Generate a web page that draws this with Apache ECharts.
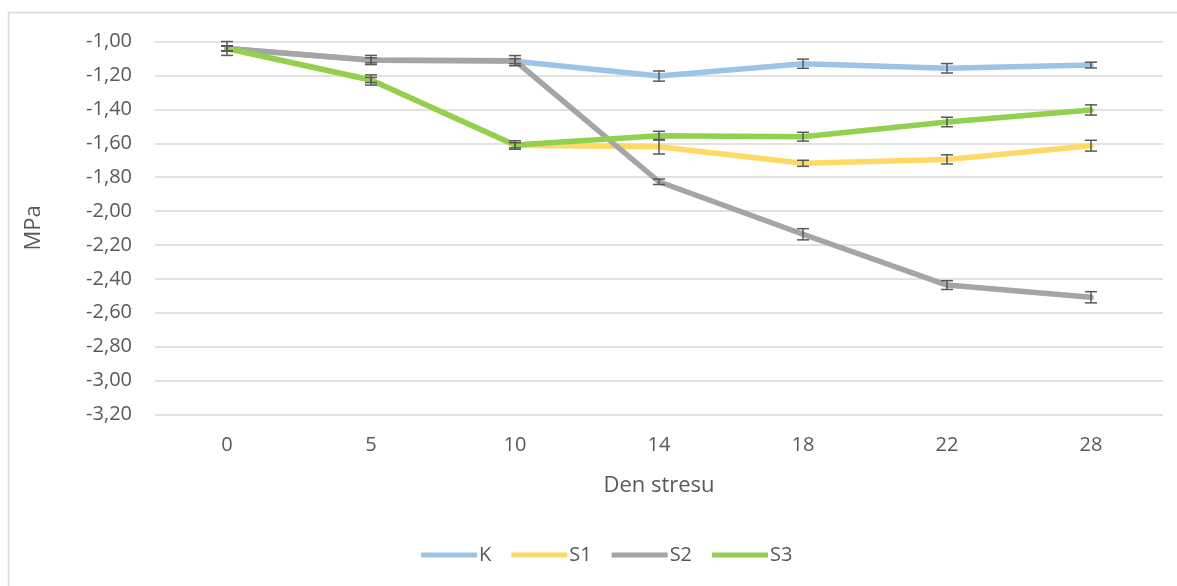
<!DOCTYPE html>
<html>
<head>
<meta charset="utf-8">
<script src="https://cdn.jsdelivr.net/npm/echarts@6/dist/echarts.min.js"></script>
<style>
  html, body { margin: 0; padding: 0; background: #fff; }
  #chart { width: 1177px; height: 586px; }
</style>
</head>
<body>
<div id="chart"></div>
<script>
const days = ['0', '5', '10', '14', '18', '22', '28'];
const yTicks = { min: -3.2, max: -1.0, step: 0.2 };

const seriesNames = ['K', 'S1', 'S2', 'S3'];
const seriesColors = ['#9DC3E6', '#FFD966', '#A5A5A5', '#92D050'];

const valK  = [-1.04, -1.11, -1.115, -1.203, -1.13, -1.157, -1.138];
const valS1 = [-1.04, -1.226, -1.612, -1.62, -1.718, -1.695, -1.614];
const valS2 = [-1.04, -1.108, -1.112, -1.827, -2.137, -2.437, -2.509];
const valS3 = [-1.04, -1.226, -1.61, -1.555, -1.561, -1.474, -1.403];

const errK  = [0.015, 0.015, 0.015, 0.03, 0.027, 0.028, 0.017];
const errS1 = [0.015, 0.015, 0.015, 0.043, 0.018, 0.027, 0.032];
const errS2 = [0.041, 0.027, 0.03, 0.016, 0.033, 0.026, 0.033];
const errS3 = [0.015, 0.03, 0.025, 0.026, 0.026, 0.028, 0.03];

const values = [valK, valS1, valS2, valS3];
const errors = [errK, errS1, errS2, errS3];

const font = 'Open Sans';
const textColor = '#595959';

function fmt(v) {
  return v.toFixed(2).replace('.', ',');
}

function errorBars(name, vals, errs) {
  const data = vals.map((v, i) => [i, v - errs[i], v + errs[i]]);
  return {
    name: name,
    type: 'custom',
    silent: true,
    renderItem: (params, api) => {
      const lo = api.coord([api.value(0), api.value(1)]);
      const hi = api.coord([api.value(0), api.value(2)]);
      const half = 6;
      const style = { stroke: '#595959', lineWidth: 1.5 };
      return {
        type: 'group',
        children: [
          { type: 'line', shape: { x1: lo[0], y1: lo[1], x2: hi[0], y2: hi[1] }, style },
          { type: 'line', shape: { x1: lo[0] - half, y1: lo[1], x2: lo[0] + half, y2: lo[1] }, style },
          { type: 'line', shape: { x1: hi[0] - half, y1: hi[1], x2: hi[0] + half, y2: hi[1] }, style }
        ]
      };
    },
    encode: { x: 0, y: [1, 2] },
    data: data,
    z: 3
  };
}

const series = [];
seriesNames.forEach((name, k) => {
  series.push({
    name: name,
    type: 'line',
    data: values[k],
    symbol: 'none',
    lineStyle: { color: seriesColors[k], width: 5.5, cap: 'round', join: 'round' },
    itemStyle: { color: seriesColors[k] },
    z: 2
  });
  series.push(errorBars(name, values[k], errors[k]));
});

const chart = echarts.init(document.getElementById('chart'));
chart.setOption({
  animation: false,
  backgroundColor: '#fff',
  textStyle: { fontFamily: font, color: textColor },
  graphic: [{
    type: 'rect',
    shape: { x: 8.5, y: 12.5, width: 1200, height: 600 },
    style: { fill: 'none', stroke: '#D9D9D9', lineWidth: 1.5 },
    silent: true
  }],
  grid: { left: 155, right: 14, top: 41.7, bottom: 171.7 },
  legend: {
    data: seriesNames.map((n, k) => ({ name: n, icon: 'path://M0,0 L56,0 L56,5 L0,5 Z', itemStyle: { color: seriesColors[k] } })),
    bottom: 16,
    left: 416,
    itemWidth: 56,
    itemHeight: 5,
    itemGap: 20,
    textStyle: { fontFamily: font, fontSize: 20, color: textColor, padding: [0, 0, 0, -3] }
  },
  xAxis: {
    type: 'category',
    data: days,
    boundaryGap: true,
    name: 'Den stresu',
    nameLocation: 'middle',
    nameGap: 60,
    nameTextStyle: { fontFamily: font, fontSize: 22, color: textColor },
    axisLine: { show: false },
    axisTick: { show: false },
    axisLabel: { fontFamily: font, fontSize: 20, color: textColor, margin: 21 }
  },
  yAxis: {
    type: 'value',
    min: yTicks.min,
    max: yTicks.max,
    interval: yTicks.step,
    name: 'MPa',
    nameLocation: 'middle',
    nameGap: 110,
    nameTextStyle: { fontFamily: font, fontSize: 22, color: textColor },
    axisLine: { show: false },
    axisTick: { show: false },
    axisLabel: { fontFamily: font, fontSize: 20, color: textColor, margin: 23, formatter: fmt },
    splitLine: { lineStyle: { color: '#D9D9D9', width: 1.5 } }
  },
  series: series
});
</script>
</body>
</html>
